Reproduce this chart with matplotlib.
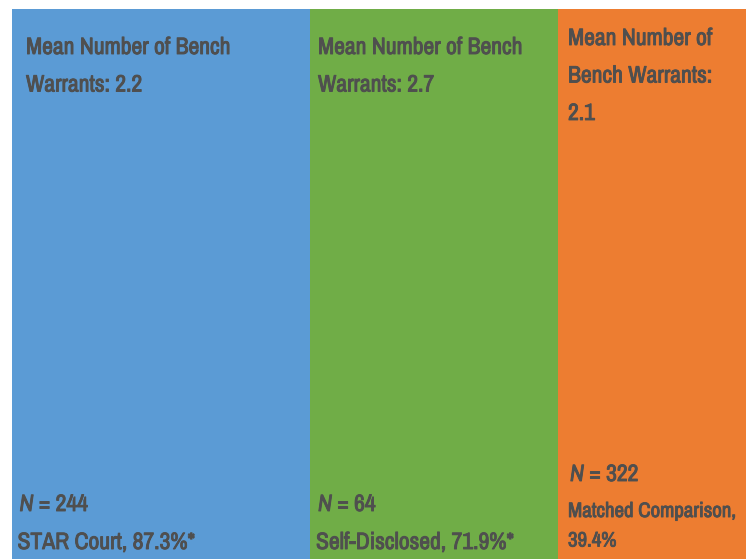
import matplotlib.pyplot as plt
import matplotlib.patheffects as pe
from matplotlib import font_manager

groups = ['STAR Court', 'Self-Disclosed', 'Matched Comparison']
mean_warrants = [2.2, 2.7, 2.1]
n_sizes = [244, 64, 322]
pct = [87.3, 71.9, 39.4]
stars = ['*', '*', '']
colors = ['#5B9BD5', '#70AD47', '#ED7D31']

names = sorted({f.name for f in font_manager.fontManager.ttflist})
narrow = [n for n in names if 'Narrow' in n or 'Condensed' in n]
fam = narrow[0] if narrow else 'Lato'
fsize = 17 if narrow else 15
ink = '#4F4F4F'

# panel layout in pixel units
lefts = [11.5, 310, 558]
widths = [298.5, 248, 188]
top = 9

fig = plt.figure(figsize=(7.49, 5.59), dpi=100)
ax = fig.add_axes([0, 0, 1, 1])
ax.set_xlim(0, 749)
ax.set_ylim(559, 0)
ax.axis('off')

ax.bar(lefts, [559 - top] * 3, width=widths, bottom=top, align='edge',
       color=colors, linewidth=0)

# fake the heavier weight with a thin outline in the same colour
heavy = [pe.withStroke(linewidth=0.65, foreground=ink)]
txt = dict(family=fam, weight='bold', color=ink, va='top', path_effects=heavy)

head = ['Mean Number of Bench\nWarrants: {}',
        'Mean Number of Bench\nWarrants: {}',
        'Mean Number of\nBench Warrants:\n{}']
head_x = [14.5, 8, 10]
head_y = [37, 37, 28]
foot_x = [6, 6, 10]
foot_n_y = [494, 494, 464]
foot_y = [532, 532, 502]
foot_size = [fsize, fsize, fsize - 2]

for i in range(3):
    ax.text(lefts[i] + head_x[i], head_y[i], head[i].format(mean_warrants[i]),
            linespacing=1.97, fontsize=fsize, **txt)
    tn = ax.text(lefts[i] + foot_x[i] + 2, foot_n_y[i], 'N', style='italic',
                 fontsize=fsize, **txt)
    ax.annotate(' = {}'.format(n_sizes[i]), xy=(1, 1), xycoords=tn,
                ha='left', fontsize=fsize, **txt)
    if i < 2:
        label = '{}, {}%{}'.format(groups[i], pct[i], stars[i])
    else:
        label = '{},\n{}%'.format(groups[i], pct[i])
    ax.text(lefts[i] + foot_x[i], foot_y[i], label, linespacing=1.7,
            fontsize=foot_size[i], **txt)

fig.savefig('out.png', dpi=100)
